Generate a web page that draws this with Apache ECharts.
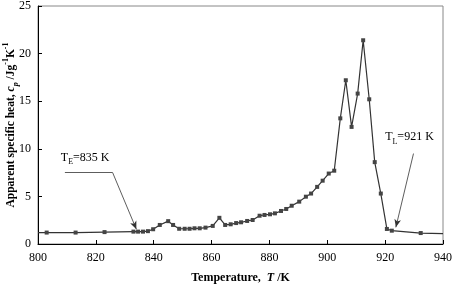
<!DOCTYPE html>
<html>
<head>
<meta charset="utf-8">
<style>
  html, body { margin: 0; padding: 0; background: #fff; }
  #main { width: 454px; height: 284px; }
</style>
</head>
<body>
<div id="main"></div>
<script src="https://cdn.jsdelivr.net/npm/echarts@6/dist/echarts.min.js"></script>
<script>
  // measured points (temperature K, apparent cp J/gK)
  var temps = [800, 803, 813, 823, 833, 834.6, 836.3, 838, 839.8, 842.1, 845, 846.7, 848.8, 850.7, 852.4,
    854.1, 855.9, 857.9, 860.4, 862.7, 864.7, 866.6, 868.5, 870.2, 872.3, 874.2, 876.6, 878.3, 880.2,
    881.9, 884, 885.8, 887.7, 890.3, 892.6, 894.4, 896.5, 898.4, 900.5, 902.4, 904.5, 906.4, 908.4,
    910.5, 912.4, 914.5, 916.4, 918.5, 920.6, 922.3, 932.3, 940];
  var cp = [1.2, 1.2, 1.2, 1.25, 1.3, 1.3, 1.3, 1.35, 1.55, 2.0, 2.4, 2.0, 1.6, 1.6, 1.6,
    1.65, 1.65, 1.72, 1.9, 2.75, 2.0, 2.07, 2.2, 2.28, 2.42, 2.52, 2.97, 3.05, 3.12,
    3.22, 3.47, 3.68, 4.02, 4.45, 4.97, 5.3, 6.0, 6.65, 7.4, 7.7, 13.2, 17.2, 12.3,
    15.8, 21.4, 15.2, 8.6, 5.3, 1.58, 1.4, 1.15, 1.1];
  var xTicks = [800, 940, 20];
  var yTicks = [0, 25, 5];

  // annotation geometry in data units
  var teLine = [[809.3, 7.5], [825.8, 7.5], [834, 1.55]];
  var tlLine = [[929.8, 9.5], [923.7, 1.75]];
  var teText = [807.9, 9.1];
  var tlText = [920, 11.3];

  var serif = '"Liberation Serif", "DejaVu Serif", serif';
  var pts = temps.map(function (t, i) { return [t, cp[i]]; });
  var last = pts.length - 1;

  var myChart = echarts.init(document.getElementById('main'));
  var option = {
    animation: false,
    grid: {
      left: 38, right: 11, top: 6, bottom: 40,
      containLabel: false, outerBoundsMode: 'none',
      show: true, borderColor: '#888', borderWidth: 1
    },
    xAxis: {
      type: 'value', min: xTicks[0], max: xTicks[1], interval: xTicks[2],
      name: 'Temperature,  {i|T} /K', nameLocation: 'middle', nameGap: 28, nameMoveOverlap: false,
      nameTextStyle: {
        fontFamily: serif, fontSize: 12, fontWeight: 'bold', color: '#000',
        rich: { i: { fontFamily: serif, fontSize: 12, fontWeight: 'bold', fontStyle: 'italic', color: '#000' } }
      },
      axisLine: { lineStyle: { color: '#000', width: 1 } },
      axisTick: { inside: true, length: 4, lineStyle: { color: '#000' } },
      axisLabel: { fontFamily: serif, fontSize: 12, color: '#000', margin: 8 },
      splitLine: { show: false }
    },
    yAxis: {
      type: 'value', min: yTicks[0], max: yTicks[1], interval: yTicks[2],
      name: 'Apparent specific heat, {i|c}{sub|p} /Jg{sup|-1}K{sup|-1}',
      nameLocation: 'middle', nameGap: 21, nameRotate: 90, nameMoveOverlap: false,
      nameTextStyle: {
        fontFamily: serif, fontSize: 11.5, fontWeight: 'bold', color: '#000',
        rich: {
          i: { fontFamily: serif, fontSize: 11.5, fontWeight: 'bold', fontStyle: 'italic', color: '#000' },
          sub: { fontFamily: serif, fontSize: 8, fontWeight: 'bold', fontStyle: 'italic', color: '#000', verticalAlign: 'bottom', padding: [0, 0, -3, 0] },
          sup: { fontFamily: serif, fontSize: 8, fontWeight: 'bold', color: '#000', verticalAlign: 'top', padding: [-3, 0, 0, 0] }
        }
      },
      axisLine: { lineStyle: { color: '#000', width: 1 } },
      axisTick: { inside: true, length: 4, lineStyle: { color: '#000' } },
      axisLabel: { fontFamily: serif, fontSize: 12, color: '#000', margin: 7 },
      splitLine: { show: false }
    },
    series: [{
      type: 'line',
      data: pts,
      symbol: function (v, p) { return (p.dataIndex === 0 || p.dataIndex === last) ? 'none' : 'rect'; },
      symbolSize: 4,
      showAllSymbol: true,
      lineStyle: { color: '#333', width: 1.2 },
      itemStyle: { color: '#444' },
      markLine: {
        silent: true,
        symbol: ['none', 'none'],
        label: { show: false },
        lineStyle: { color: '#333', width: 0.8, type: 'solid' },
        data: [
          [{ coord: teLine[0] }, { coord: teLine[1] }],
          [{ coord: teLine[1] }, { coord: teLine[2], symbol: 'arrow', symbolSize: [5, 8] }],
          [{ coord: tlLine[0] }, { coord: tlLine[1], symbol: 'arrow', symbolSize: [5, 8] }]
        ]
      }
    }]
  };
  myChart.setOption(option);

  // annotation texts placed through the chart's own scales
  var subRich = {
    b: { fontFamily: serif, fontSize: 12, color: '#000' },
    s: { fontFamily: serif, fontSize: 8, color: '#000', verticalAlign: 'bottom', padding: [0, 0, -3, 0] }
  };
  var pe = myChart.convertToPixel('grid', teText);
  var pl = myChart.convertToPixel('grid', tlText);
  myChart.setOption({
    graphic: [
      { type: 'text', x: pe[0], y: pe[1], style: { text: '{b|T}{s|E}{b|=835 K}', rich: subRich, verticalAlign: 'middle' } },
      { type: 'text', x: pl[0], y: pl[1], style: { text: '{b|T}{s|L}{b|=921 K}', rich: subRich, verticalAlign: 'middle' } }
    ]
  });
</script>
</body>
</html>
